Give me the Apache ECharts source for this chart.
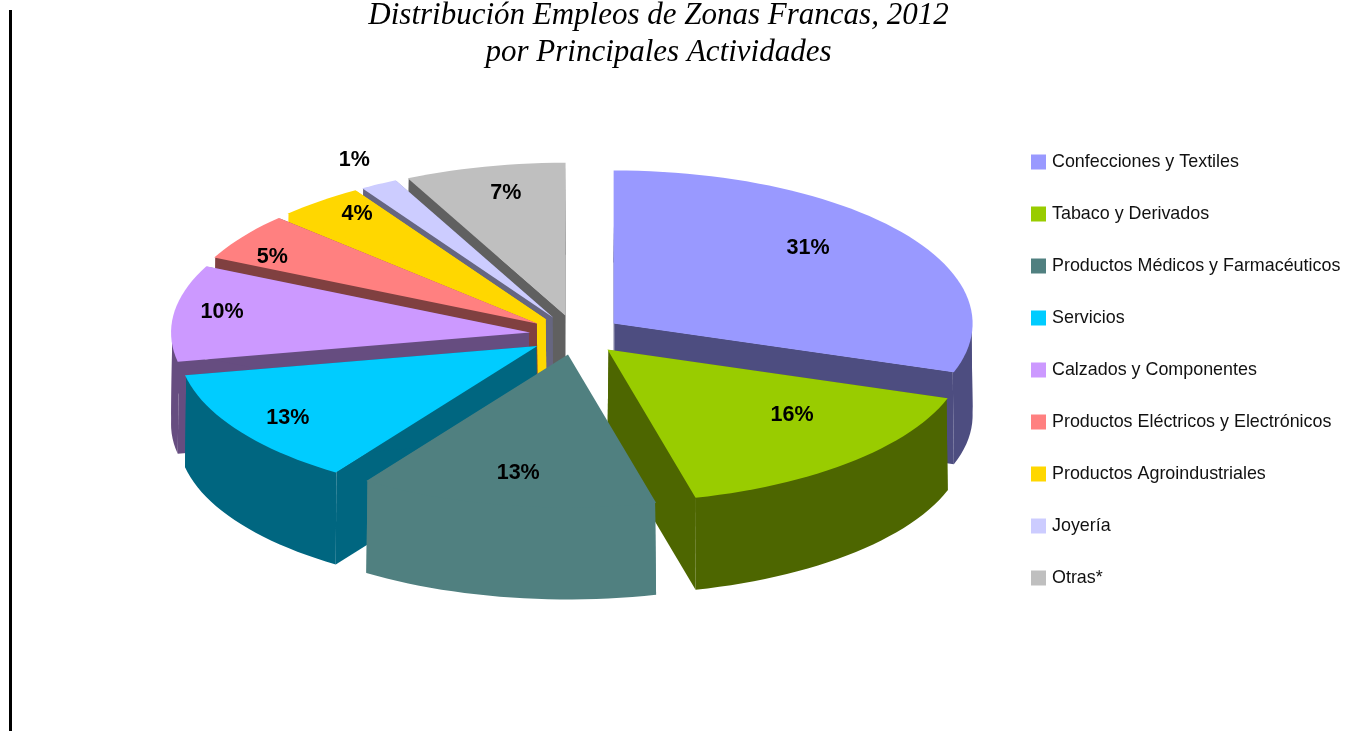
<!DOCTYPE html>
<html>
<head>
<meta charset="utf-8">
<style>html,body{margin:0;padding:0;background:#fff}#c{width:1356px;height:731px}</style>
<script src="https://cdn.jsdelivr.net/npm/echarts@6/dist/echarts.min.js"></script>
</head>
<body>
<div id="c"></div>
<script>
// ---- data ----
const categories = ['Confecciones y Textiles','Tabaco y Derivados','Productos Médicos y Farmacéuticos','Servicios','Calzados y Componentes','Productos Eléctricos y Electrónicos','Productos Agroindustriales','Joyería','Otras*'];
const shares = [30.2,15.9,13.45,12.45,10.2,5.05,3.9,1.7,7.25];
const percentLabels = ['31%','16%','13%','13%','10%','5%','4%','1%','7%'];

// ---- styling ----
const topColors  = ['#9999ff','#99cc00','#508080','#00ccff','#cc99ff','#ff8080','#ffd700','#ccccff','#bfbfbf'];
const wallColors = ['#4d4d80','#4d6600','#508080','#006680','#664d80','#804040','#ffd700','#666680','#606060'];
const paintOrder = [8,7,6,5,4,0,1,3,2];          // back to front
const labelReachX = [0.667,0.757,0.80,0.833,0.865,0.90,0.836,1.14,0.738];
const labelReachY = [0.85,0.582,0.787,0.86,1.05,0.77,0.887,1.18,0.823];

// ---- pie projection ----
const PIE = {cx:576, cy:335, rx:359, ry:153, depth:92, explode:0.129};
const total = shares.reduce((a,b)=>a+b,0);
const rad = d => d*Math.PI/180;

function sliceGeometry(i){
  const before = shares.slice(0,i).reduce((a,b)=>a+b,0);
  const t0 = rad(before/total*360), t1 = rad((before+shares[i])/total*360), mid=(t0+t1)/2;
  const ax = PIE.cx + PIE.explode*PIE.rx*Math.sin(mid);
  const ay = PIE.cy - PIE.explode*PIE.ry*Math.cos(mid);
  const at = t => [ax+PIE.rx*Math.sin(t), ay-PIE.ry*Math.cos(t)];
  const n = Math.max(8,Math.ceil((t1-t0)/rad(2)));
  const ts=[];
  for(let k=0;k<=n;k++) ts.push(t0+(t1-t0)*k/n);
  // rim pieces break at the ellipse's left and right extremes so each one is a simple polygon
  const breaks=[Math.PI/2,Math.PI*1.5].filter(b=>b>t0&&b<t1);
  const pieces=[]; let cur=[];
  ts.forEach((t,k)=>{
    while(breaks.length&&t>breaks[0]){const b=breaks.shift();cur.push(b);pieces.push(cur);cur=[b];}
    cur.push(t);
  });
  pieces.push(cur);
  return {ax,ay,at,ts,pieces,mid,t0,t1};
}
function makeRenderer(i){
  return function(params,api){
    const g = sliceGeometry(i), d=PIE.depth, apex=[g.ax,g.ay];
    const cen=[g.ax+0.5*PIE.rx*Math.sin(g.mid),g.ay-0.5*PIE.ry*Math.cos(g.mid)];
    const down = p=>[p[0],p[1]+d];
    // top edge of each wall is tucked under the top face
    const tuck = p=>{const dx=cen[0]-p[0],dy=cen[1]-p[1],L=Math.hypot(dx,dy)||1;return [p[0]+dx/L*1.2,p[1]+dy/L*1.2];};
    const wall = {fill:wallColors[i]};
    const poly = (pts,style)=>({type:'polygon',shape:{points:pts},style});
    const a0=g.at(g.t0), a1=g.at(g.t1);
    const kids=[
      poly([tuck(apex),tuck(a0),down(a0),down(apex)],wall),
      poly([tuck(apex),tuck(a1),down(a1),down(apex)],wall)
    ];
    g.pieces.forEach(ts=>{
      const pts=ts.map(g.at);
      kids.push(poly(pts.map(tuck).concat(pts.map(down).reverse()),wall));
    });
    kids.push(poly([apex].concat(g.ts.map(g.at)),{fill:topColors[i]}));
    kids.push({type:'text',style:{
        text:percentLabels[i],
        x:g.ax+labelReachX[i]*PIE.rx*Math.sin(g.mid),
        y:g.ay-labelReachY[i]*PIE.ry*Math.cos(g.mid),
        align:'center',verticalAlign:'middle',
        font:'bold 21.5px "Liberation Sans", Arial, sans-serif',fill:'#000'}});
    return {type:'group',children:kids};
  };
}

const chart = echarts.init(document.getElementById('c'),null,{renderer:'canvas'});
chart.setOption({
  animation:false,
  backgroundColor:'#fff',
  title:{
    text:'Distribución Empleos de Zonas Francas, 2012\npor Principales Actividades',
    left:653.5, top:-8, textAlign:'center',
    textStyle:{fontFamily:'"Liberation Serif"',fontStyle:'italic',fontWeight:'normal',fontSize:31,lineHeight:37,color:'#000'}
  },
  legend:{
    orient:'vertical',left:1026,top:148,
    itemWidth:15,itemHeight:15,itemGap:34,icon:'rect',
    selectedMode:false,
    textStyle:{fontFamily:'"Liberation Sans"',fontSize:17.9,color:'#111',padding:[0,0,0,1]},
    data:categories
  },
  graphic:[{type:'rect',shape:{x:9,y:10,width:3,height:721},style:{fill:'#000'},silent:true}],
  series:categories.map((name,i)=>({
    type:'custom',name,coordinateSystem:'none',
    z:2+paintOrder.indexOf(i),
    itemStyle:{color:topColors[i]},
    silent:true,
    data:[[shares[i]]],
    renderItem:makeRenderer(i)
  }))
});
</script>
</body>
</html>
